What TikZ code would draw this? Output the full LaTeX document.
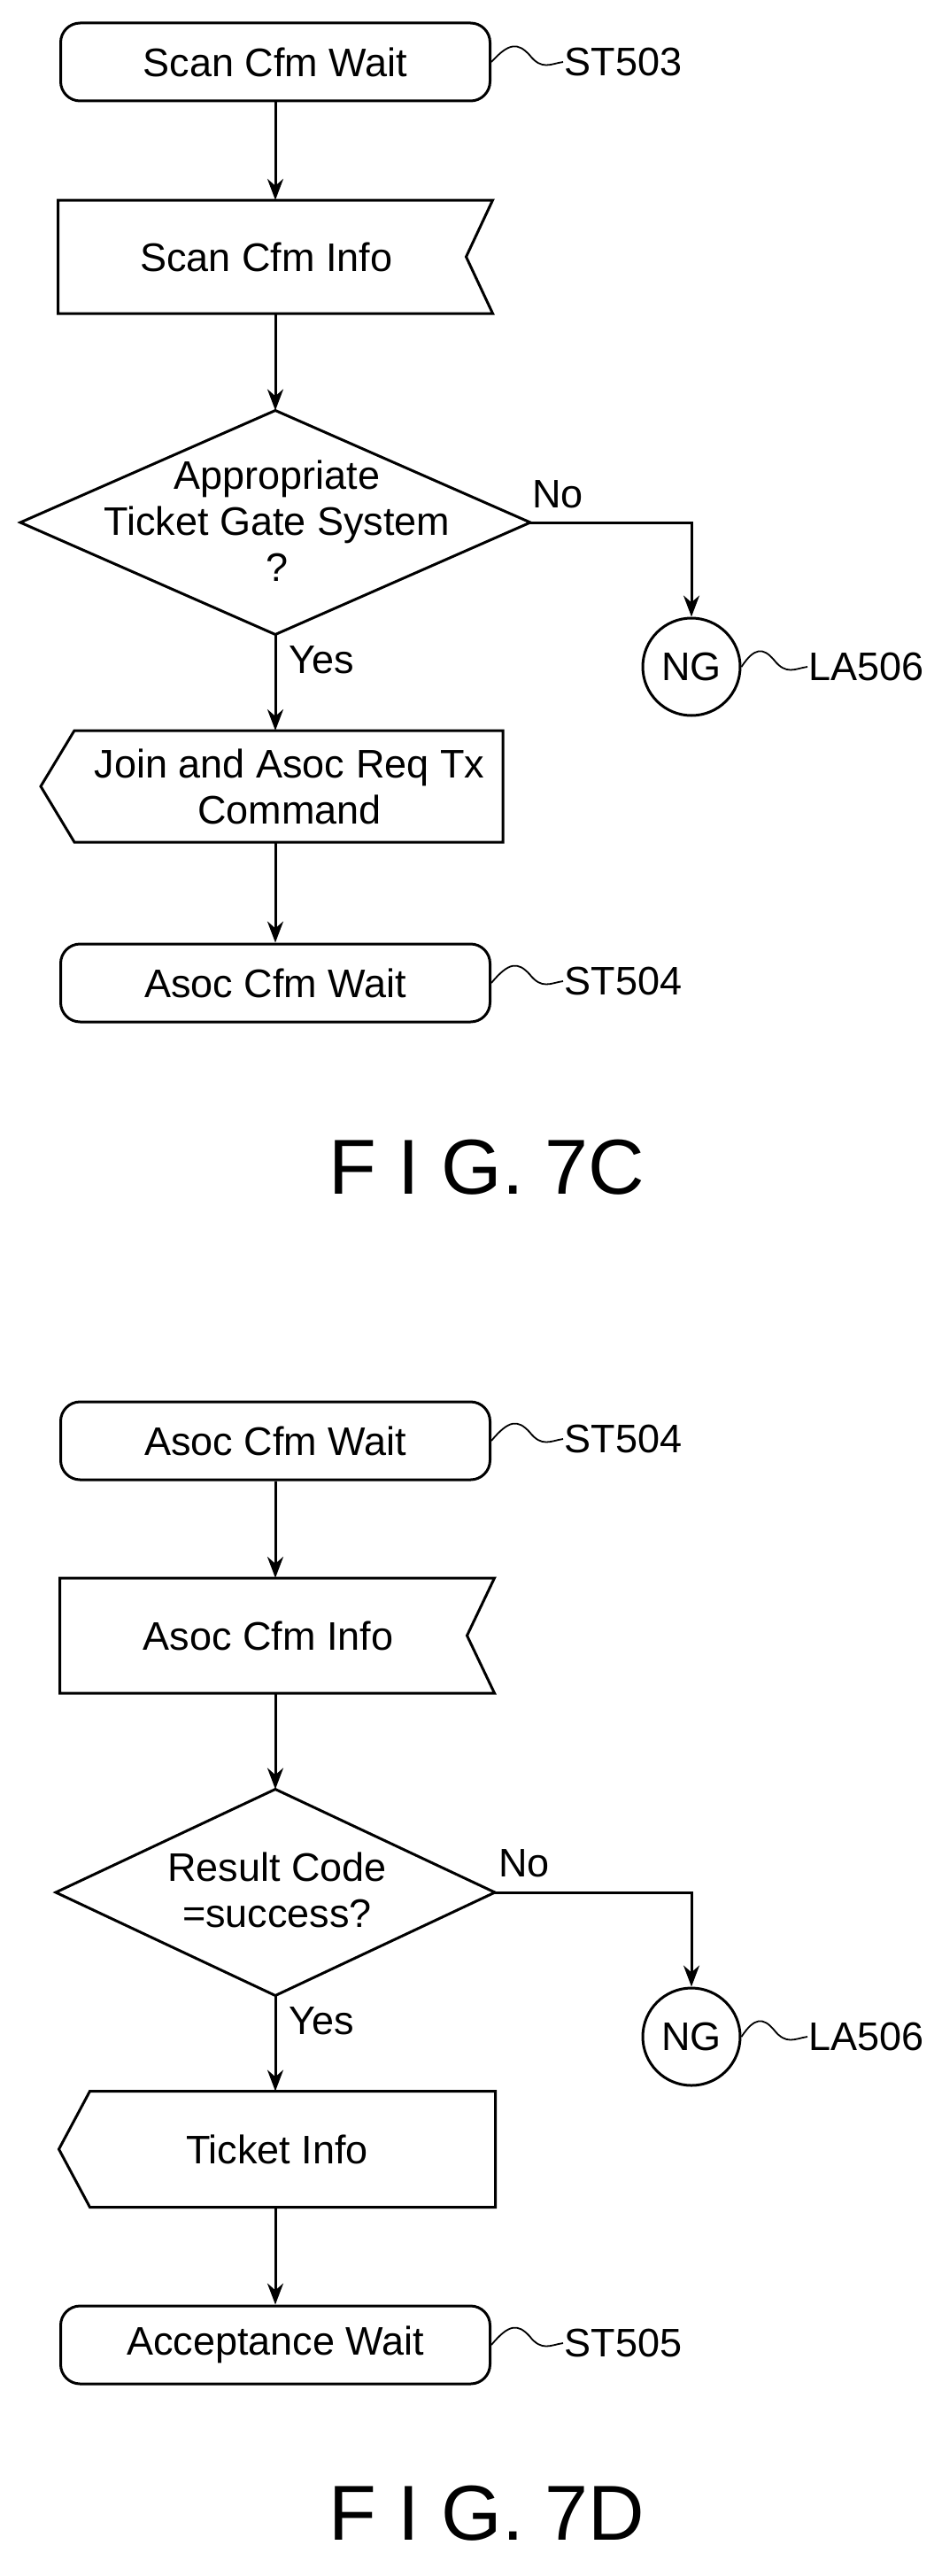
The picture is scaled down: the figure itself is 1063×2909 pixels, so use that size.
\documentclass[tikz,border=0pt]{standalone}
\usepackage{fontspec}
\setmainfont{Liberation Sans}
\usetikzlibrary{arrows.meta}
\begin{document}
\begin{tikzpicture}[x=1pt,y=-1pt,line width=3pt,
  every node/.style={font=\fontsize{45}{52}\selectfont,align=center,inner sep=0pt},
  term/.style={draw,rounded corners=22pt,minimum width=485pt,minimum height=88pt},
  blk/.style={minimum width=488pt,minimum height=125pt},
  conn/.style={draw,circle,minimum size=110pt},
  arr/.style={-{Stealth[length=24pt,width=18pt]}},
  lbl/.style={anchor=west},
  fig/.style={font=\fontsize{88}{90}\selectfont}]
\useasboundingbox (0,0) rectangle (1063,2909);
% ---- FIG 7C ----
\node[term] (s1) at (311,70) {Scan Cfm Wait};
\node[blk] (i1) at (311,290) {Scan Cfm Info\hspace*{20pt}};
\draw (i1.north west) -- (i1.north east) -- ([xshift=-30pt]i1.east) -- (i1.south east) -- (i1.south west) -- cycle;
\node[minimum width=573pt,minimum height=250pt] (d1) at (311,590) {};
\draw (d1.north) -- (d1.east) -- (d1.south) -- (d1.west) -- cycle;
\node at (313,588) {Appropriate\\Ticket Gate System\\?};
\node[conn] (ng1) at (781,753) {NG};
\node[minimum width=519pt,minimum height=123pt] (j1) at (307,888) {};
\draw ([xshift=38pt]j1.north west) -- (j1.north east) -- (j1.south east) -- ([xshift=38pt]j1.south west) -- (j1.west) -- cycle;
\node at (327,888) {Join and Asoc Req Tx\\Command};
\node[term] (s2) at (311,1110) {Asoc Cfm Wait};
\node[lbl] (no1) at (600,558) {No};
\node[lbl] (yes1) at (325,745) {Yes};
\draw[arr] (s1) -- (i1);
\draw[arr] (i1) -- (d1);
\draw[arr] (d1.south) -- (j1.north -| d1.south);
\draw[arr] (j1.south -| s2) -- (s2);
\draw[arr] (d1.east) -| (ng1.north);
% labels
\coordinate (t1) at (636,70);
\node[lbl] (st1) at (t1) {ST503};
\draw[line width=1.8pt] (s1.east) .. controls (575,48) and (585,48) .. (598,62) .. controls (612,80) and (622,72) .. (t1);
\coordinate (t2) at (636,1108);
\node[lbl] (st2) at (t2) {ST504};
\draw[line width=1.8pt] (s2.east) .. controls (575,1086) and (585,1086) .. (598,1100) .. controls (612,1118) and (622,1110) .. (t2);
\coordinate (t3) at (912,753);
\node[lbl] (la1) at (t3) {LA506};
\draw[line width=1.8pt] (ng1.east) .. controls (852,731) and (862,731) .. (874,745) .. controls (888,763) and (898,755) .. (t3);
\node[fig] (f1) at (550,1318) {F I G. 7C};
% ---- FIG 7D ----
\node[term] (s3) at (311,1627) {Asoc Cfm Wait};
\node[blk, minimum height=127pt] (i2) at (313,1847) {Asoc Cfm Info\hspace*{20pt}};
\draw (i2.north west) -- (i2.north east) -- ([xshift=-31pt]i2.east) -- (i2.south east) -- (i2.south west) -- cycle;
\node[minimum width=493pt,minimum height=230pt] (d2) at (311,2137) {};
\draw (d2.north) -- (d2.east) -- (d2.south) -- (d2.west) -- cycle;
\node at (313,2134) {Result Code\\=success?};
\node[conn] (ng2) at (781,2300) {NG};
\node[minimum width=490pt,minimum height=128pt] (k2) at (313,2427) {};
\draw ([xshift=35pt]k2.north west) -- (k2.north east) -- (k2.south east) -- ([xshift=35pt]k2.south west) -- (k2.west) -- cycle;
\node at (313,2427) {Ticket Info};
\node[term] (s4) at (311,2648) {Acceptance Wait};
\node[lbl] (no2) at (562,2104) {No};
\node[lbl] (yes2) at (325,2282) {Yes};
\draw[arr] (s3) -- (i2.north -| s3);
\draw[arr] (i2.south -| s3) -- (d2);
\draw[arr] (d2.south) -- (k2.north -| d2);
\draw[arr] (k2.south -| s4) -- (s4);
\draw[arr] (d2.east) -| (ng2.north);
\coordinate (t4) at (636,1625);
\node[lbl] (st3) at (t4) {ST504};
\draw[line width=1.8pt] (s3.east) .. controls (575,1603) and (585,1603) .. (598,1617) .. controls (612,1635) and (622,1627) .. (t4);
\coordinate (t5) at (636,2646);
\node[lbl] (st4) at (t5) {ST505};
\draw[line width=1.8pt] (s4.east) .. controls (575,2624) and (585,2624) .. (598,2638) .. controls (612,2656) and (622,2648) .. (t5);
\coordinate (t6) at (912,2300);
\node[lbl] (la2) at (t6) {LA506};
\draw[line width=1.8pt] (ng2.east) .. controls (852,2278) and (862,2278) .. (874,2292) .. controls (888,2310) and (898,2302) .. (t6);
\node[fig] (f2) at (550,2838) {F I G. 7D};
\end{tikzpicture}
\end{document}
